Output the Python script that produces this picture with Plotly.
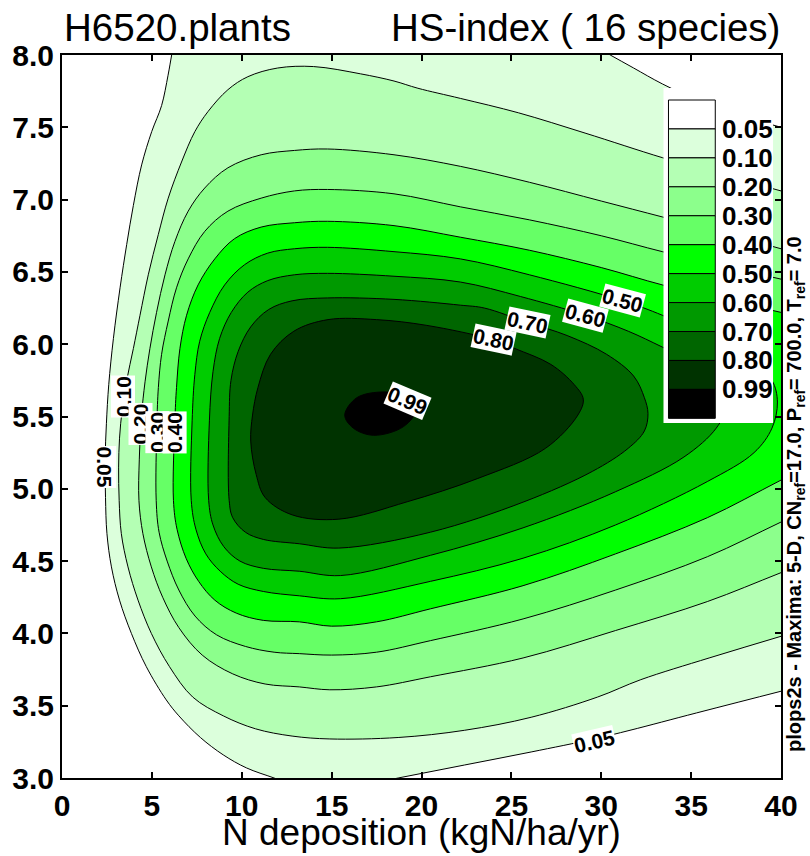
import plotly.graph_objects as go

# ------------------------------------------------------------------ data
LEVELS = [0.05, 0.10, 0.20, 0.30, 0.40, 0.50, 0.60, 0.70, 0.80, 0.99]
LEVEL_TEXT = ["0.05", "0.10", "0.20", "0.30", "0.40", "0.50", "0.60", "0.70", "0.80", "0.99"]
BAND_COLORS = ["#ffffff", "#dcffdc", "#b4ffb4", "#8cff8c", "#66ff66", "#00ff00",
               "#00cc00", "#009900", "#006600", "#003300", "#000000"]

X_TICKS = [0, 5, 10, 15, 20, 25, 30, 35, 40]
Y_TICKS = [3.0, 3.5, 4.0, 4.5, 5.0, 5.5, 6.0, 6.5, 7.0, 7.5, 8.0]

# contour 0.05 : left branch (top -> bottom)
c005a_n = [6.1, 5.9, 5.54, 4.99, 4.43, 3.97, 3.6, 3.23, 2.86, 2.6, 2.47, 2.40, 2.42, 2.5,
           2.75, 3.2, 3.86, 4.69, 5.8, 6.5, 7.7, 8.97, 10.26, 11.8]
c005a_ph = [8.0, 7.86, 7.65, 7.47, 7.24, 6.96, 6.69, 6.39, 6.04, 5.72, 5.45, 5.2, 4.94, 4.69,
            4.46, 4.23, 4.0, 3.77, 3.54, 3.43, 3.28, 3.16, 3.07, 3.0]
# contour 0.05 : lower right branch (left -> right)
c005b_n = [18.7, 22.4, 26.1, 29.6, 31.6, 35.3, 40.0]
c005b_ph = [3.0, 3.09, 3.18, 3.27, 3.33, 3.45, 3.60]
# contour 0.05 : upper right branch (left -> right)
c005c_n = [30.5, 31.8, 33.4, 35.5, 37.8, 40.0]
c005c_ph = [8.0, 7.91, 7.80, 7.68, 7.58, 7.5]

# contour 0.10 (right edge top -> around -> right edge bottom)
c010_n = [40, 36.5, 33.4, 29.1, 25.4, 22.16, 19.8, 18.47, 16.6, 14.0, 12.0, 10.34, 9.23, 8.13,
          7.39, 6.65, 5.91, 5.36, 4.8, 4.34, 3.97, 3.6, 3.35, 3.2, 3.15, 3.18, 3.3, 3.67, 4.23,
          4.97, 5.98, 7.27, 8.97, 10.77, 12.8, 14.9, 18.7, 22.4, 26.1, 29.8, 32.2, 36, 40]
c010_ph = [7.06, 7.18, 7.29, 7.46, 7.6, 7.70, 7.77, 7.82, 7.87, 7.92, 7.91, 7.85, 7.76, 7.61,
           7.47, 7.26, 7.01, 6.76, 6.48, 6.20, 5.97, 5.75, 5.55, 5.35, 5.15, 4.92, 4.69, 4.46,
           4.23, 4.0, 3.77, 3.56, 3.43, 3.34, 3.29, 3.27, 3.28, 3.33, 3.42, 3.56, 3.68, 3.83, 3.98]

# contour 0.20
c020_n = [40, 36.5, 33.4, 30, 26, 22.16, 18.47, 14.77, 12.93, 11.08, 9.23, 7.94, 7.02, 6.28,
          5.73, 5.26, 4.89, 4.62, 4.42, 4.3, 4.28, 4.5, 4.97, 5.6, 6.5, 7.8, 9.5, 11.3, 13.2,
          14.9, 17.5, 20.5, 25.65, 30.8, 35.9, 40]
c020_ph = [6.66, 6.78, 6.88, 6.99, 7.12, 7.23, 7.31, 7.35, 7.34, 7.31, 7.22, 7.08, 6.92, 6.71,
           6.48, 6.22, 5.97, 5.74, 5.5, 5.2, 4.92, 4.69, 4.46, 4.25, 4.04, 3.85, 3.72, 3.65,
           3.63, 3.61, 3.63, 3.70, 3.83, 4.02, 4.22, 4.42]

# contour 0.30
c030_n = [40, 36.5, 33.4, 30, 26, 22.16, 18.47, 14.77, 12.93, 11.08, 9.23, 7.94, 7.02, 6.37,
          5.91, 5.54, 5.36, 5.28, 5.24, 5.4, 5.85, 6.5, 7.4, 8.6, 10.2, 11.8, 13.2, 15, 17.5,
          20.5, 25.65, 30.8, 35.9, 40]
c030_ph = [6.45, 6.55, 6.64, 6.75, 6.86, 6.95, 7.04, 7.07, 7.06, 7.01, 6.92, 6.78, 6.59, 6.39,
           6.16, 5.93, 5.70, 5.45, 4.92, 4.7, 4.5, 4.3, 4.12, 3.99, 3.91, 3.87, 3.86, 3.85,
           3.87, 3.95, 4.10, 4.30, 4.53, 4.77]

# contour 0.40
c040_n = [40, 36.5, 33.4, 30, 26, 22.16, 18.47, 14.77, 12.93, 11.08, 9.6, 8.5, 7.57, 6.93,
          6.56, 6.37, 6.28, 6.2, 6.4, 6.9, 7.6, 8.5, 9.7, 11.2, 13.2, 15, 17.5, 20.5, 25.65,
          30.8, 35.9, 40]
c040_ph = [6.22, 6.32, 6.41, 6.53, 6.65, 6.74, 6.82, 6.85, 6.84, 6.81, 6.73, 6.59, 6.41, 6.2,
           5.97, 5.70, 5.47, 4.92, 4.72, 4.52, 4.36, 4.23, 4.14, 4.09, 4.08, 4.05, 4.08, 4.17,
           4.33, 4.55, 4.80, 5.06]

# contour 0.50 (closed)
c050_n = [22.16, 18.47, 14.77, 12.93, 11.45, 10.16, 9.05, 8.22, 7.66, 7.39, 7.24, 7.19, 7.45,
          8.0, 8.8, 9.8, 11.2, 13.2, 15.5, 20.5, 25.65, 30.8, 35.9, 38.5, 39.5, 39.8, 39.5,
          38.3, 36, 33.4, 31.2, 26, 22.16]
c050_ph = [6.59, 6.64, 6.67, 6.66, 6.63, 6.55, 6.41, 6.22, 6.02, 5.79, 5.47, 4.92, 4.72, 4.55,
           4.43, 4.34, 4.29, 4.26, 4.24, 4.36, 4.52, 4.75, 5.05, 5.25, 5.42, 5.6, 5.75, 5.9,
           6.05, 6.2, 6.30, 6.48, 6.59]

# contour 0.60 (closed)
c060_n = [22.16, 18.47, 14.77, 12.93, 11.45, 10.34, 9.42, 8.77, 8.4, 8.2, 8.16, 8.4, 9.0, 9.9,
          11.2, 13.2, 15.5, 20.5, 25.65, 30.8, 34.6, 36.4, 37.0, 36.7, 35.5, 33.4, 31.5, 29.1,
          25.5, 22.16]
c060_ph = [6.43, 6.47, 6.49, 6.48, 6.44, 6.36, 6.22, 6.04, 5.81, 5.47, 4.92, 4.75, 4.6, 4.5,
           4.45, 4.43, 4.40, 4.54, 4.73, 4.98, 5.22, 5.42, 5.58, 5.72, 5.85, 5.98, 6.09, 6.2,
           6.33, 6.43]

# contour 0.70 (closed)
c070_n = [22.16, 18.47, 14.77, 12.8, 11.5, 10.5, 9.8, 9.4, 9.3, 9.3, 9.5, 10.2, 11.2, 13.2,
          15.4, 20.5, 25.7, 29.5, 31.5, 32.4, 32.6, 32.4, 31.8, 30.3, 28.1, 25.9, 23.5, 22.16]
c070_ph = [6.27, 6.31, 6.32, 6.30, 6.24, 6.12, 5.95, 5.75, 5.5, 4.92, 4.8, 4.7, 4.65, 4.62,
           4.59, 4.70, 4.91, 5.12, 5.28, 5.40, 5.52, 5.63, 5.78, 5.93, 6.06, 6.15, 6.25, 6.27]

# contour 0.80 (closed)
c080_n = [17.5, 14.8, 12.9, 11.6, 10.9, 10.6, 10.5, 10.8, 11.3, 12.8, 15.4, 19.2, 23.1, 26.9,
          28.7, 29.0, 28.5, 27.2, 25.2, 24.0, 20.3, 17.5]
c080_ph = [6.17, 6.17, 6.09, 5.93, 5.70, 5.51, 5.33, 5.10, 4.94, 4.82, 4.79, 4.91, 5.07, 5.28,
           5.51, 5.62, 5.72, 5.86, 5.97, 6.03, 6.13, 6.17]

# contour 0.99 (closed)
c099_n = [15.73, 16.4, 17.9, 19.2, 19.72, 19.0, 17.34, 16.2, 15.73]
c099_ph = [5.51, 5.63, 5.67, 5.64, 5.55, 5.43, 5.37, 5.42, 5.51]

# contour labels
lab_text = ["0.05", "0.10", "0.20", "0.30", "0.40", "0.05", "0.50", "0.60", "0.70", "0.80", "0.99"]
lab_n = [2.37, 3.38, 4.38, 5.30, 6.26, 29.6, 31.2, 29.1, 25.9, 24.0, 19.2]
lab_ph = [5.15, 5.64, 5.45, 5.39, 5.39, 3.25, 6.30, 6.20, 6.15, 6.03, 5.61]
lab_angle = [90, -90, -90, -90, -90, -13, 15, 15, 12, 12, 23]

# ------------------------------------------------------------------ helpers
X_RANGE = [0, 40]
Y_RANGE = [3, 8]


def pts(ns, phs):
    return list(zip(ns, phs))


def ext(p_prev, p_end, f=1.0):
    return (p_end[0] + f * (p_end[0] - p_prev[0]), p_end[1] + f * (p_end[1] - p_prev[1]))


def open_poly(curve):
    return [ext(curve[1], curve[0])] + curve + [ext(curve[-2], curve[-1])]


A = pts(c005a_n, c005a_ph)
B = pts(c005b_n, c005b_ph)
C = pts(c005c_n, c005c_ph)[::-1]
poly005 = (A + [ext(A[-2], A[-1]), ext(B[1], B[0])] + B + [ext(B[-2], B[-1]), ext(C[1], C[0])]
           + C + [ext(C[-2], C[-1]), ext(A[1], A[0]), A[0]])

polys = [
    poly005,
    open_poly(pts(c010_n, c010_ph)),
    open_poly(pts(c020_n, c020_ph)),
    open_poly(pts(c030_n, c030_ph)),
    open_poly(pts(c040_n, c040_ph)),
    pts(c050_n, c050_ph),
    pts(c060_n, c060_ph),
    pts(c070_n, c070_ph),
    pts(c080_n, c080_ph),
    pts(c099_n, c099_ph),
]

fig = go.Figure()
for i, poly in enumerate(polys):
    fig.add_trace(go.Scatter(
        x=[p[0] for p in poly], y=[p[1] for p in poly],
        mode="lines", fill="toself", fillcolor=BAND_COLORS[i + 1],
        line=dict(color="black", width=1, shape="spline", smoothing=1.0),
        hoverinfo="skip", name=LEVEL_TEXT[i],
    ))

# ------------------------------------------------------------------ layout
W, H = 810, 856
ML, MR, MT, MB = 62, 26, 55, 78
PW, PH = W - ML - MR, H - MT - MB


def px_x(px):
    return (px - ML) / PW


def px_y(py):
    return (H - MB - py) / PH


FONT = "Liberation Sans"
axis_common = dict(
    ticks="inside", ticklen=6, tickwidth=1.5, tickcolor="black",
    showline=True, linecolor="black", linewidth=2, mirror="ticks",
    showgrid=False, zeroline=False,
    tickfont=dict(family=FONT, size=30, color="black", weight="bold"),
)
fig.update_layout(
    width=W, height=H, margin=dict(l=ML, r=MR, t=MT, b=MB),
    plot_bgcolor="white", paper_bgcolor="white", showlegend=False,
    xaxis=dict(range=X_RANGE, tickvals=X_TICKS, **axis_common),
    yaxis=dict(range=Y_RANGE, tickvals=Y_TICKS, tickformat=".1f", **axis_common),
)

ann = []
# contour labels
for t, n, p, a in zip(lab_text, lab_n, lab_ph, lab_angle):
    ann.append(dict(x=n, y=p, xref="x", yref="y", text=t, showarrow=False, textangle=a,
                    font=dict(family=FONT, size=21, color="black", weight="bold"),
                    bgcolor="white", borderpad=0))

# titles
ann.append(dict(x=px_x(62), y=px_y(28), xref="paper", yref="paper", text="H6520.plants",
                showarrow=False, xanchor="left", yanchor="middle",
                font=dict(family=FONT, size=38.5, color="black")))
ann.append(dict(x=px_x(785), y=px_y(28), xref="paper", yref="paper",
                text="HS-index ( 16 species)", showarrow=False, xanchor="right",
                yanchor="middle", font=dict(family=FONT, size=38.5, color="black")))
ann.append(dict(x=0.5, y=px_y(832), xref="paper", yref="paper",
                text="N deposition (kgN/ha/yr)", showarrow=False, xanchor="center",
                yanchor="middle", font=dict(family=FONT, size=37, color="black")))
ann.append(dict(x=px_x(798), y=px_y(494), xref="paper", yref="paper",
                text="plops2s - Maxima: 5-D, CN<sub>ref</sub>=17.0, P<sub>ref</sub>= 700.0, "
                     "T<sub>ref</sub>= 7.0",
                showarrow=False, textangle=-90, xanchor="center", yanchor="middle",
                font=dict(family=FONT, size=20, color="black", weight="bold")))

# colour bar drawn inside the plot
shapes = []
shapes.append(dict(type="rect", xref="paper", yref="paper", x0=px_x(666), x1=px_x(776),
                   y0=px_y(423), y1=px_y(88), fillcolor="white", line=dict(width=0),
                   layer="above"))
CB_L, CB_R, CB_T, CB_H = 671, 718, 100, 28.94
for i, col in enumerate(BAND_COLORS):
    shapes.append(dict(type="rect", xref="paper", yref="paper", x0=px_x(CB_L), x1=px_x(CB_R),
                       y0=px_y(CB_T + (i + 1) * CB_H), y1=px_y(CB_T + i * CB_H),
                       fillcolor=col, line=dict(color="black", width=1), layer="above"))
for k, t in enumerate(LEVEL_TEXT):
    ann.append(dict(x=px_x(723), y=px_y(CB_T + (k + 1) * CB_H), xref="paper", yref="paper",
                    text=t, showarrow=False, xanchor="left", yanchor="middle",
                    font=dict(family=FONT, size=26, color="black", weight="bold")))

fig.update_layout(annotations=ann, shapes=shapes)
fig.write_html("out.html")
